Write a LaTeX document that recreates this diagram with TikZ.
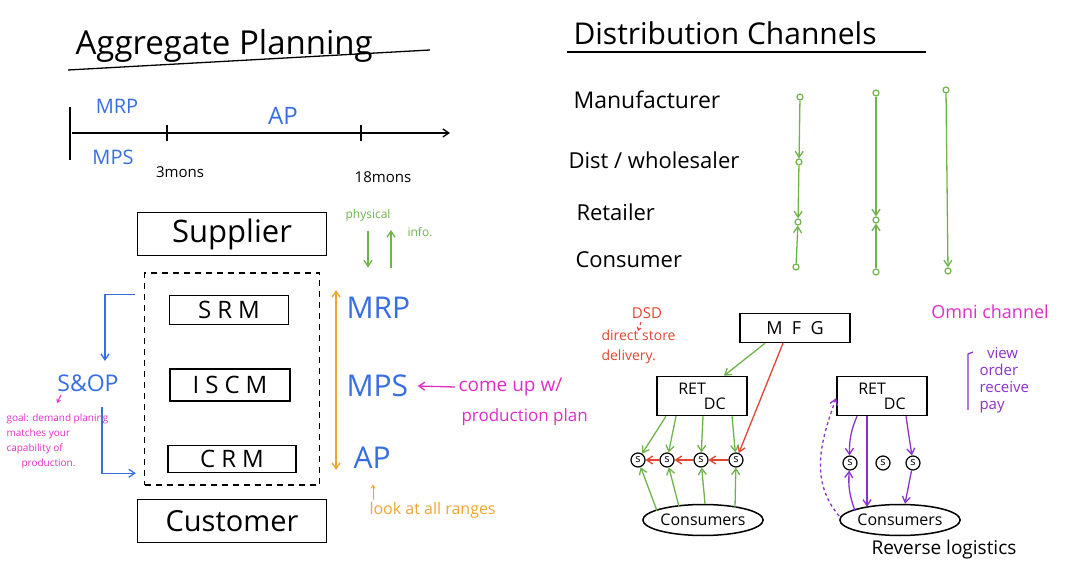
\documentclass[tikz,border=0pt]{standalone}
\usepackage{fontspec}
\setmainfont{Open Sans}
\usepackage{xcolor}
\usepackage{tikz}
\usetikzlibrary{arrows.meta,shapes.geometric}
\definecolor{penblue}{RGB}{55,110,225}
\definecolor{pengreen}{RGB}{110,180,75}
\definecolor{penorange}{RGB}{240,165,50}
\definecolor{penpink}{RGB}{225,45,200}
\definecolor{penred}{RGB}{225,70,50}
\definecolor{penpurple}{RGB}{140,50,200}
\newcommand{\fs}[1]{\fontsize{#1}{#1}\selectfont}

\begin{document}
\begin{tikzpicture}[x=1pt,y=-1pt,
  pen/.style={line width=1.3pt},
  tip/.style={-{Straight Barb[length=6pt,width=8pt]}},
  smalltip/.style={-{Straight Barb[length=3pt,width=4pt]}},
  box/.style={draw, line width=1.5pt, inner sep=0pt},
  sdot/.style={draw=pengreen, line width=1.2pt, circle, inner sep=0pt, minimum size=6pt},
  snode/.style={draw, line width=1.2pt, circle, inner sep=0pt, minimum size=14pt, font=\fs{11}},
  crowd/.style={draw, line width=1.5pt, ellipse, inner sep=0pt, minimum width=114pt, minimum height=31pt, font=\fs{16}}]

\useasboundingbox (0,0) rectangle (1080,577);

\node[font=\fs{33}, anchor=base west] (aptitle) at (72,55) {Aggregate Planning};
\draw[pen] (68,70) -- (430,50);

\coordinate (t0) at (72,133);
\coordinate (t1) at (450,133);
\draw[pen, tip] (t0) -- (t1);
\draw[pen] (70,107) -- (70,160);
\draw[pen] (167,125) -- (167,141);
\draw[pen] (361,125) -- (361,141);
\node[text=penblue, font=\fs{20}] (mrp1) at (117,106) {MRP};
\node[text=penblue, font=\fs{20}] (mps1) at (113,157) {MPS};
\node[text=penblue, font=\fs{24}] (ap1) at (283,116) {AP};
\node[font=\fs{15}] (m3) at (180,172) {3mons};
\node[font=\fs{15}] (m18) at (383,177) {18mons};

\node[box, minimum width=189pt, minimum height=43pt, font=\fs{31}] (supplier) at (232,234) {Supplier};
\node[draw, dash pattern=on 6pt off 5pt, line width=1.3pt, minimum width=175pt, minimum height=212pt] (erp) at (232,379) {};
\node[box, minimum width=119pt, minimum height=29pt, font=\fs{24}\addfontfeatures{LetterSpace=25}] (srm) at (229,310) {SRM};
\node[box, minimum width=120pt, minimum height=32pt, font=\fs{24}\addfontfeatures{LetterSpace=25}] (iscm) at (230,385) {ISCM};
\node[box, minimum width=128pt, minimum height=27pt, font=\fs{24}\addfontfeatures{LetterSpace=25}] (crm) at (232,459) {CRM};
\node[box, minimum width=189pt, minimum height=43pt, font=\fs{29}] (customer) at (232,521) {Customer};

\node[text=pengreen, font=\fs{12}] (phys) at (368,215) {physical};
\node[text=pengreen, font=\fs{12}] (info) at (420,232) {info.};
\coordinate (up0) at (391,268);
\coordinate (up1) at (391,230);
\draw[pen, pengreen, tip] ([yshift=-6pt]phys.south) -- ++(0,37);
\draw[pen, pengreen, tip] (up0) -- (up1);

\node[text=penblue, font=\fs{30}, anchor=west] (mrp2) at (343,308) {MRP};
\node[text=penblue, font=\fs{30}, anchor=west] (mps2) at (343,386) {MPS};
\node[text=penblue, font=\fs{30}, anchor=west] (ap2) at (350,458) {AP};
\coordinate (otop) at (336,290);
\coordinate (obot) at (336,470);
\draw[pen, penorange, {Straight Barb[length=6pt,width=8pt]}-{Straight Barb[length=6pt,width=8pt]}] (otop) -- (obot);

\node[text=penpink, font=\fs{19}, anchor=west] (comeup) at (455,387) {come up w/};
\node[text=penpink, font=\fs{17}, anchor=west] (prodplan) at (458,417) {production plan};
\draw[pen, penpink, tip] (comeup.west) -- ([xshift=6pt]mps2.east);

\node[text=penorange, font=\fs{16}, anchor=west] (ranges) at (366,510) {look at all ranges};
\draw[penorange, line width=1pt, smalltip] ([xshift=7pt,yshift=-2pt]ranges.north west) -- ++(0,-16);

\node[text=penblue, font=\fs{23}] (sop) at (88,383) {S\&OP};
\draw[pen, penblue, tip] ([xshift=-9pt]erp.west |- srm.north) -| ([xshift=17pt,yshift=10pt]sop.north);
\draw[pen, penblue, tip] ([xshift=14pt,yshift=-12pt]sop.south) |- ([xshift=-8pt]erp.west |- crm.south);
\node[text=penpink, font=\fontsize{10}{15}\selectfont, align=left, anchor=north west] (goal) at (3,410) {goal: demand planing\\matches your\\capability of\\\hspace*{1.5em}production.};
\draw[penpink, line width=1pt, smalltip] ([xshift=-27pt]sop.south) -- ++(-4,8);

\node[font=\fs{30}, anchor=base west] (dctitle) at (570,45) {Distribution Channels};
\draw[pen] (567,52) -- (926,52);
\node[font=\fs{23}, anchor=west] (manu) at (570,100) {Manufacturer};
\node[font=\fs{22}, anchor=west] (dist) at (565,160) {Dist / wholesaler};
\node[font=\fs{22}, anchor=west] (ret) at (573,212) {Retailer};
\node[font=\fs{22}, anchor=west] (cons) at (572,260) {Consumer};

\node[sdot] (m1) at (800,97) {};
\node[sdot] (d1) at (799,162) {};
\node[sdot] (r1) at (798,222) {};
\node[sdot] (c1) at (796,267) {};
\node[sdot] (m2) at (876,93) {};
\node[sdot] (r2) at (876,220) {};
\node[sdot] (c2) at (876,272) {};
\node[sdot] (m3) at (946,90) {};
\node[sdot] (c3) at (948,271) {};
\draw[pen, pengreen, tip] (m1) -- (d1);
\draw[pen, pengreen, tip] (d1) -- (r1);
\draw[pen, pengreen, tip] (c1) -- (r1);
\draw[pen, pengreen, tip] (m2) -- (r2);
\draw[pen, pengreen, tip] (c2) -- (r2);
\draw[pen, pengreen, tip] (m3) -- (c3);

\node[text=penpink, font=\fs{18}] (omni) at (990,312) {Omni channel};
\draw[pen, penpurple] (973,352) -- (968,354) -- (968,410);
\node[text=penpurple, font=\fontsize{15}{17}\selectfont, align=left, anchor=north west] (steps) at (976,344) {\hspace*{0.5em}view\\order\\receive\\pay};

\node[text=penred, font=\fs{15}] (dsd) at (647,313) {DSD};
\node[text=penred, font=\fontsize{14}{20}\selectfont, align=left, anchor=north west] (dsdtext) at (598,326) {direct store\\delivery.};
\draw[penred, line width=1pt, dashed, smalltip] ([xshift=-6pt]dsd.south) -- ++(-3,9);

\node[box, minimum width=110pt, minimum height=29pt, font=\fs{18}] (mfg) at (795,328) {M\ \ F\ \ G};
\node[box, minimum width=90pt, minimum height=39pt, font=\fontsize{16}{15}\selectfont, align=left] (retl) at (702,396) {RET\\\hspace*{1.6em}DC};
\node[box, minimum width=90pt, minimum height=39pt, font=\fontsize{16}{15}\selectfont, align=left] (retr) at (882,396) {RET\\\hspace*{1.6em}DC};

\node[snode] (sl1) at (638,460) {s};
\node[snode] (sl2) at (667,460) {s};
\node[snode] (sl3) at (701,460) {s};
\node[snode] (sl4) at (736,460) {s};
\node[snode] (sr1) at (850,463) {s};
\node[snode] (sr2) at (883,463) {s};
\node[snode] (sr3) at (913,463) {s};
\node[crowd] (conl) at (703,520) {Consumers};
\node[crowd] (conr) at (900,520) {Consumers};

\draw[pen, pengreen, tip] ([xshift=-30pt]mfg.south) -- ([xshift=22pt]retl.north);
\draw[pen, penred, tip] ([xshift=-12pt]mfg.south) -- (sl4);
\draw[pen, penred, tip] (sl4) -- (sl3);
\draw[pen, penred, tip] (sl3) -- (sl2);
\draw[pen, penred, tip] (sl2) -- (sl1);
\draw[pen, pengreen, tip] ([xshift=-36pt]retl.south) -- (sl1);
\draw[pen, pengreen, tip] ([xshift=-26pt]retl.south) -- (sl2);
\draw[pen, pengreen, tip] ([xshift=1pt]retl.south) -- (sl3);
\draw[pen, pengreen, tip] ([xshift=30pt]retl.south) -- (sl4);
\draw[pen, pengreen, tip] ([xshift=-46pt,yshift=-7pt]conl.north) -- (sl1);
\draw[pen, pengreen, tip] ([xshift=-24pt,yshift=-3pt]conl.north) -- (sl2);
\draw[pen, pengreen, tip] ([xshift=2pt]conl.north) -- (sl3);
\draw[pen, pengreen, tip] ([xshift=32pt,yshift=-4pt]conl.north) -- (sl4);

\draw[pen, penpurple, tip] ([xshift=-25pt]retr.south) to[bend right=12] (sr1);
\draw[pen, penpurple, tip] ([xshift=-15pt]retr.south) -- ([xshift=-15pt,yshift=-3pt]retr.south |- conr.north);
\draw[pen, penpurple, tip] ([xshift=24pt]retr.south) -- (sr3);
\draw[pen, penpurple, tip] (sr3) -- ([xshift=5pt]conr.north);
\draw[pen, penpurple, tip] ([xshift=-45pt,yshift=-7pt]conr.north) to[bend left=12] (sr1);
\draw[pen, penpurple, dashed, tip] ([yshift=4pt]conr.west) to[out=130, in=250] ([yshift=-2pt]retr.west);

\node[font=\fs{19}] (revlog) at (944,550) {Reverse logistics};

\end{tikzpicture}
\end{document}
